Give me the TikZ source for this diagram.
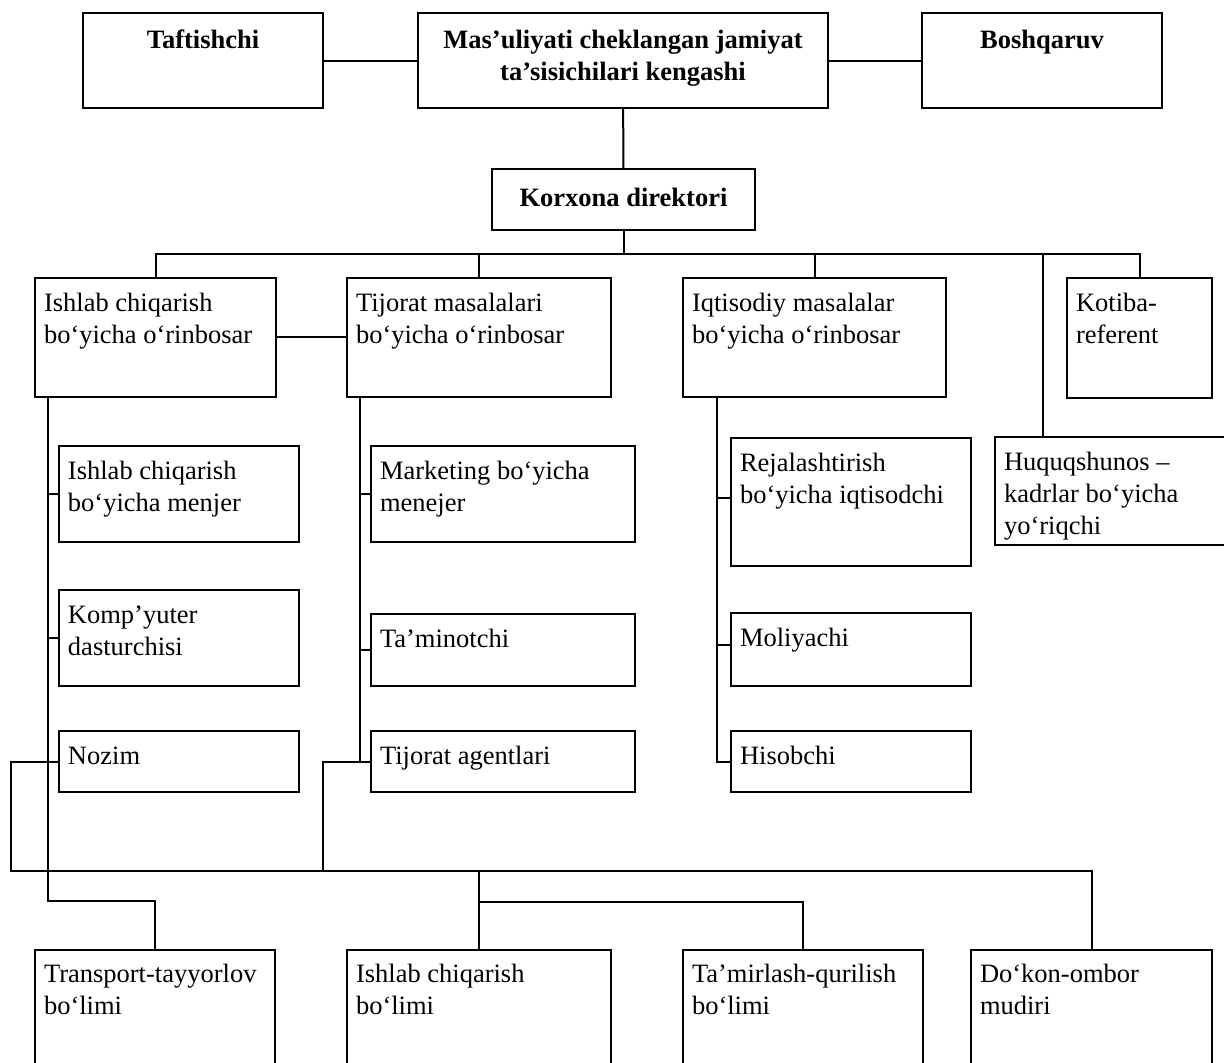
\documentclass[tikz,border=0pt]{standalone}
\usepackage{fontspec}
\setmainfont{Liberation Serif}
% box contents: width, height, first-baseline offset; left-aligned plain or centred bold
\newcommand\boxL[3][33]{\parbox[c][\cellh pt][t]{#2pt}{\raggedright\leftskip=9pt\relax\vspace*{\dimexpr#1pt-22.4pt\relax}\strut#3\par}}
\newcommand\boxC[3][35]{\parbox[c][\cellh pt][t]{#2pt}{\centering\bfseries\vspace*{\dimexpr#1pt-22.4pt\relax}\strut#3\par}}
\newcommand\cellh{0}
\begin{document}
\begin{tikzpicture}[x=1pt,y=-1pt,
  cell/.style={draw,line width=2.3pt,anchor=north west,inner sep=0pt,outer sep=0pt,
    font=\fontsize{26.5}{32}\selectfont},
  wire/.style={line width=2pt}]
\useasboundingbox (0,0) rectangle (1224,1063);
\clip (0,0) rectangle (1224,1063);

% founders' level
\renewcommand\cellh{95}
\node[cell] (taft) at (83,13)  {\boxC{240}{Taftishchi}};
\node[cell] (msc)  at (418,13) {\boxC{410}{Mas’uliyati cheklangan jamiyat\\ta’sisichilari kengashi}};
\node[cell] (bosh) at (922,13) {\boxC{240}{Boshqaruv}};
\renewcommand\cellh{61}
\node[cell] (korx) at (492,169) {\boxC[37]{263}{Korxona direktori}};

% deputies
\renewcommand\cellh{119}
\node[cell] (ishq) at (35,278)  {\boxL{241}{Ishlab chiqarish\\bo‘yicha o‘rinbosar}};
\node[cell] (tijq) at (347,278) {\boxL{264}{Tijorat masalalari\\bo‘yicha o‘rinbosar}};
\node[cell] (iqtq) at (683,278) {\boxL{263}{Iqtisodiy masalalar\\bo‘yicha o‘rinbosar}};
\renewcommand\cellh{120}
\node[cell] (kotiba) at (1067,278) {\boxL{145}{Kotiba-\\referent}};
\renewcommand\cellh{108}
\node[cell] (huquq) at (995,437) {\boxL{245}{Huquqshunos –\\kadrlar bo‘yicha\\yo‘riqchi}};

% staff, first column
\renewcommand\cellh{96}
\node[cell] (menj) at (59,446) {\boxL{240}{Ishlab chiqarish\\bo‘yicha menjer}};
\node[cell] (komp) at (59,590) {\boxL{240}{Komp’yuter\\dasturchisi}};
\renewcommand\cellh{61}
\node[cell] (nozim) at (59,731) {\boxL{240}{Nozim}};

% staff, second column
\renewcommand\cellh{96}
\node[cell] (mark) at (371,446) {\boxL{264}{Marketing bo‘yicha\\menejer}};
\renewcommand\cellh{72}
\node[cell] (tamin) at (371,614) {\boxL{264}{Ta’minotchi}};
\renewcommand\cellh{61}
\node[cell] (agent) at (371,731) {\boxL{264}{Tijorat agentlari}};

% staff, third column
\renewcommand\cellh{128}
\node[cell] (rejal) at (731,438) {\boxL{240}{Rejalashtirish\\bo‘yicha iqtisodchi}};
\renewcommand\cellh{73}
\node[cell] (moliya) at (731,613) {\boxL{240}{Moliyachi}};
\renewcommand\cellh{61}
\node[cell] (hisob) at (731,731) {\boxL{240}{Hisobchi}};

% departments
\renewcommand\cellh{130}
\node[cell] (transp) at (35,950)  {\boxL[32]{240}{Transport-tayyorlov\\bo‘limi}};
\node[cell] (ishb)   at (347,950) {\boxL[32]{264}{Ishlab chiqarish\\bo‘limi}};
\node[cell] (tamir)  at (683,950) {\boxL[32]{240}{Ta’mirlash-qurilish\\bo‘limi}};
\node[cell] (dokon)  at (971,950) {\boxL[32]{241}{Do‘kon-ombor\\mudiri}};

% helper points for the buses and spines
\coordinate (busA) at (0,254);
\coordinate (lk)   at (0,337);
\coordinate (hq)   at (1043,254);
\coordinate (t1)   at (48,901);
\coordinate (t2)   at (360,0);
\coordinate (t3)   at (717,0);
\coordinate (busB) at (11,871);
\coordinate (j2)   at (323,871);
\coordinate (busC) at (0,902);
\coordinate (rj)   at (0,498);
\coordinate (ml)   at (0,645);

% top level links
\draw[wire] (taft) -- (msc);
\draw[wire] (msc) -- (bosh);
\draw[wire] (msc) -- (korx);
\draw[wire] (korx.south) -- (korx.south |- busA);
\draw[wire] (ishq.north) |- (busA -| kotiba.north) -- (kotiba.north);
\draw[wire] (tijq.north |- busA) -- (tijq.north);
\draw[wire] (iqtq.north |- busA) -- (iqtq.north);
\draw[wire] (hq) -- (hq |- huquq.north);
\draw[wire] (ishq.east |- lk) -- (tijq.west |- lk);

% first column spine
\draw[wire] (ishq.south -| t1) -- (t1) -| (transp.north);
\draw[wire] (menj.west -| t1) -- (menj.west);
\draw[wire] (komp.west -| t1) -- (komp.west);
\draw[wire] (nozim.west -| t1) -- (nozim.west);

% second column spine
\draw[wire] (tijq.south -| t2) -- (t2 |- agent.west) -- (agent.west);
\draw[wire] (mark.west -| t2) -- (mark.west);
\draw[wire] (tamin.west -| t2) -- (tamin.west);

% third column spine
\draw[wire] (iqtq.south -| t3) -- (t3 |- hisob.west) -- (hisob.west);
\draw[wire] (t3 |- rj) -- (rejal.west |- rj);
\draw[wire] (t3 |- ml) -- (moliya.west |- ml);

% lower bus to the departments
\draw[wire] (nozim.west) -| (busB) -- (busB -| dokon.north) -- (dokon.north);
\draw[wire] (agent.west) -| (j2);
\draw[wire] (ishb.north |- busB) -- (ishb.north);
\draw[wire] (ishb.north |- busC) -| (tamir.north);
\end{tikzpicture}
\end{document}
